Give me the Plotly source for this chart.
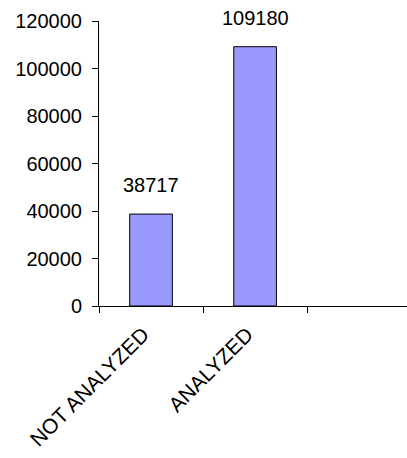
import plotly.graph_objects as go

categories = ["NOT ANALYZED", "ANALYZED", " "]
values = [38717, 109180, None]
label_text = ["38717", "109180", ""]
y_ticks = [0, 20000, 40000, 60000, 80000, 100000, 120000]

fig = go.Figure()
fig.add_trace(go.Bar(
    x=categories, y=values,
    marker=dict(color="#9999FF", line=dict(color="black", width=1)),
    width=0.41,
))
for c, v, t in zip(categories, values, label_text):
    if v is not None:
        fig.add_annotation(x=c, y=v, text=t, showarrow=False,
                           yanchor="bottom", yshift=16,
                           font=dict(family="Liberation Sans, Arial", size=20, color="black"))

fig.update_layout(
    width=407, height=458,
    margin=dict(l=99, r=0, t=21, b=152),
    paper_bgcolor="white", plot_bgcolor="white",
    showlegend=False,
    font=dict(family="Liberation Sans, Arial", size=20, color="black"),
)
fig.update_xaxes(
    type="category", categoryorder="array", categoryarray=categories,
    range=[-0.5, 2.46], automargin=False,
    showline=True, linecolor="black", linewidth=1,
    ticks="outside", ticklen=6, tickcolor="black", tickson="boundaries",
    tickangle=-45, showgrid=False, zeroline=False,
    tickfont=dict(size=21), ticklabelstandoff=7, ticklabelshift=-8,
)
fig.update_yaxes(
    range=[0, 120000], tickvals=y_ticks, tickformat="d", automargin=False,
    showline=True, linecolor="black", linewidth=1,
    ticks="outside", ticklen=6, tickcolor="black",
    showgrid=False, zeroline=False, ticklabelstandoff=6,
)
fig.write_html("out.html")
